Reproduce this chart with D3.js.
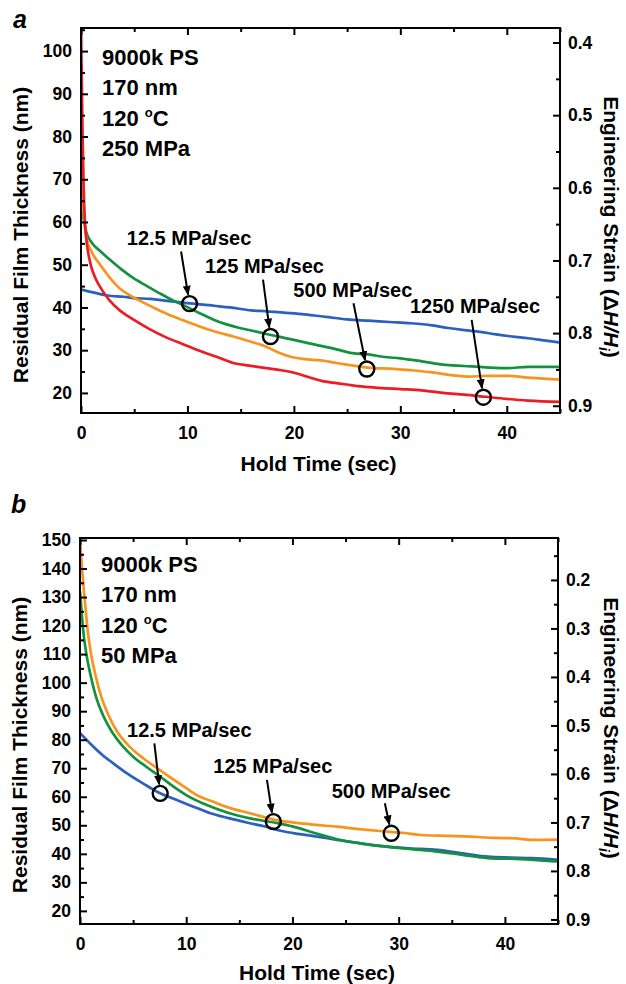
<!DOCTYPE html>
<html>
<head>
<meta charset="utf-8">
<script src="https://cdn.jsdelivr.net/npm/d3@7"></script>
<style>
  body { margin: 0; background: #fff; }
  svg { display: block; font-family: "Liberation Sans", Arial, sans-serif; font-weight: bold; }
</style>
</head>
<body>
<div id="chart"></div>
<script>
// ---- data: [hold time (s), residual thickness (nm)] ----
const initialThickness = 170;

// panel a, 250 MPa
const a_12_5 = [[0,44.2],[1,43.6],[2.5,42.8],[4,42.5],[5,42.2],[6.5,42.0],[7.5,41.7],[9,41.3],[10,41.0],[11,40.8],[12.5,40.4],[14,40.0],[16,39.3],[17.5,39.1],[19,38.8],[21,38.4],[23,37.8],[25,37.2],[27,36.9],[29,36.6],[31,36.3],[33,35.8],[34.5,35.2],[36,34.7],[37.5,34.3],[39,33.7],[40.5,33.2],[42,32.8],[43.5,32.3],[45,31.8]];
const a_125 = [[0,65],[0.2,61.5],[0.5,57.6],[1,55.2],[1.8,53.2],[2.7,51.2],[3.8,48.9],[4.9,46.9],[6.2,45.0],[7.4,43.3],[8.6,41.7],[9.9,40.2],[11.2,38.6],[12.4,37.2],[13.6,36.1],[14.9,35.2],[16.2,34.5],[17.4,33.8],[18.7,33.1],[20,32.4],[22,31.3],[24,30.2],[25.5,29.3],[27,29.0],[28.5,28.4],[30,28.1],[32,27.4],[34,26.6],[36,26.3],[38,26.0],[40,25.8],[42,26.1],[45,26.1]];
const a_500 = [[0,79],[0.1,70],[0.25,62],[0.5,56.4],[1,53],[1.8,50.0],[2.6,47.3],[3.4,45.0],[4.4,43.1],[5.5,41.6],[6.8,40.0],[8,38.6],[9.6,37.0],[11.2,35.5],[12.8,34.2],[14.3,33.2],[15.8,32.1],[17.4,30.8],[18.6,29.4],[19.8,28.4],[21,27.9],[22.5,27.6],[24,27.0],[26,26.2],[27.5,25.8],[29,25.7],[31,25.3],[33,24.8],[35,24.1],[36.5,23.8],[38,24.0],[40,24.0],[42,23.6],[45,23.1]];
const a_1250 = [[0,106],[0.08,92],[0.15,80],[0.25,68],[0.35,61],[0.5,56],[0.75,51.8],[1.0,49.2],[1.4,46.6],[2,44.0],[2.7,41.6],[3.6,39.4],[4.9,37.2],[6.4,35.0],[8,33.0],[9.6,31.4],[11.2,29.8],[12.8,28.4],[14.3,27.0],[15.8,26.4],[17.4,25.8],[18.8,25.3],[20.2,24.6],[21.5,23.6],[22.8,22.7],[24,22.3],[26,21.6],[28,21.2],[30,20.9],[32,20.6],[34,20.0],[36,19.6],[38,19.1],[40,18.6],[42,18.2],[45,17.9]];

// panel b, 50 MPa
const b_12_5 = [[0,82.3],[1,78.5],[2,75],[3.1,71.8],[4.5,68],[6,64.5],[7.5,61.3],[9,59],[10.5,56.8],[12.2,54.3],[14,52.5],[15.8,50.9],[17.5,49.5],[19,48.0],[20.5,47.0],[22,46.2],[24.2,44.9],[26.5,43.6],[28.9,42.5],[31,41.9],[33.6,41.4],[36,40.2],[38.4,39.0],[40.5,38.7],[42.5,38.5],[45,37.9]];
const b_125 = [[0,132],[0.15,125],[0.3,118.4],[0.6,110],[1,102.5],[1.5,95.1],[2.2,88.3],[2.9,83.4],[4,77.8],[5,74.0],[6.2,70.6],[7.5,67.2],[9,63.0],[10,60.6],[12,57.0],[14,54.3],[16,52.4],[18.5,50.8],[20,49.6],[22,47.4],[24.2,45.1],[26.5,43.6],[28.9,42.5],[31,41.7],[33.6,40.8],[36,39.6],[38.4,38.5],[41,38.2],[43,37.8],[45,37.3]];
const b_500 = [[0,151],[0.1,145],[0.3,135],[0.5,127],[0.72,118.4],[1,111],[1.5,102],[2,95.1],[2.7,88.5],[3.4,83.4],[4.5,78.2],[5.5,74.8],[6.5,72.0],[7.5,69.4],[8.5,66.8],[10,63.0],[11.2,60.2],[12.5,58.3],[14,56.2],[15.9,54.3],[17,53.2],[18.2,52.0],[20,51.0],[22,50.2],[24.2,49.5],[26.5,48.6],[28.9,47.8],[30.5,47.3],[32.1,46.6],[34.5,46.3],[36.8,46.0],[39,45.6],[41,45.4],[42.5,44.9],[45,45.0]];

// conditions text
const infoA = ["9000k PS", "170 nm", "120 °C", "250 MPa"];
const infoB = ["9000k PS", "170 nm", "120 °C", "50 MPa"];

// annotations: circle point, label start, arrow tail (data coords)
const notesA = [
  { text: "12.5 MPa/sec", pt: [10.2, 40.9], lab: [4.3, 54.6], tail: [9.4, 53.1] },
  { text: "125 MPa/sec",  pt: [17.8, 33.2], lab: [11.65, 48.1], tail: [17.1, 46.5] },
  { text: "500 MPa/sec",  pt: [26.85, 25.6], lab: [19.95, 42.5], tail: [25.6, 41.0] },
  { text: "1250 MPa/sec", pt: [37.8, 19.0], lab: [30.9, 38.6], tail: [36.7, 37.1] }
];
const notesB = [
  { text: "12.5 MPa/sec", pt: [7.55, 61.2], lab: [4.43, 80.9], tail: [7.0, 78.7] },
  { text: "125 MPa/sec",  pt: [18.2, 51.3], lab: [12.55, 68.3], tail: [17.6, 65.9] },
  { text: "500 MPa/sec",  pt: [29.3, 47.2], lab: [23.7, 59.6], tail: [28.7, 57.7] }
];

// ticks
const xMajor = [0, 10, 20, 30, 40];
const xMinor = [5, 15, 25, 35, 45];
const yMajorA = d3.range(20, 101, 10);
const yMinorA = d3.range(25, 106, 10);
const yMajorB = d3.range(20, 151, 10);
const yMinorB = d3.range(25, 146, 10);
const sMajorA = [0.4, 0.5, 0.6, 0.7, 0.8, 0.9];
const sMinorA = [0.45, 0.55, 0.65, 0.75, 0.85];
const sMajorB = [0.2, 0.3, 0.4, 0.5, 0.6, 0.7, 0.8, 0.9];
const sMinorB = [0.15, 0.25, 0.35, 0.45, 0.55, 0.65, 0.75, 0.85];

const colors = { blue: "#2b5fc0", green: "#13913f", orange: "#f7941d", red: "#ed1c24" };

const width = 626, height = 984;

const svg = d3.select("#chart")
  .append("svg")
    .attr("width", width)
    .attr("height", height)
    .attr("viewBox", [0, 0, width, height]);

svg.append("defs")
  .append("marker")
    .attr("id", "arrow")
    .attr("markerUnits", "userSpaceOnUse")
    .attr("markerWidth", 10)
    .attr("markerHeight", 8)
    .attr("refX", 9)
    .attr("refY", 4)
    .attr("orient", "auto")
  .append("path")
    .attr("d", "M0,0 L10,4 L0,8 Z")
    .attr("fill", "#000");

const styleAxis = (g, size) => {
  g.select(".domain").remove();
  g.selectAll("line").attr("stroke", "#000").attr("stroke-width", 2);
  g.selectAll("text")
    .attr("fill", "#000")
    .style("font-size", size + "px")
    .style("font-family", "'Liberation Sans', Arial, sans-serif")
    .style("font-weight", "bold");
};

function drawPanel(p) {
  const { left, right, top, bottom } = p.box;
  const x = d3.scaleLinear().domain([0, 45]).range([left, right]);
  const y = d3.scaleLinear().domain(p.yDomain).range([bottom, top]);
  const strain = d3.scaleLinear()
    .domain([1 - p.yDomain[0] / initialThickness, 1 - p.yDomain[1] / initialThickness])
    .range([bottom, top]);

  const g = svg.append("g").attr("class", "panel-" + p.letter);

  g.append("clipPath").attr("id", "clip-" + p.letter)
    .append("rect")
      .attr("x", left).attr("y", top)
      .attr("width", right - left).attr("height", bottom - top);

  // curves
  const line = d3.line()
    .x(d => x(d[0]))
    .y(d => y(d[1]))
    .curve(d3.curveMonotoneX);
  g.append("g")
      .attr("clip-path", `url(#clip-${p.letter})`)
    .selectAll("path")
    .data(p.series)
    .join("path")
      .attr("d", d => line(d.values))
      .attr("fill", "none")
      .attr("stroke", d => d.color)
      .attr("stroke-width", 2.7)
      .attr("stroke-linejoin", "round");

  // axes, ticks inward
  g.append("g").attr("transform", `translate(0,${bottom})`)
    .call(d3.axisBottom(x).tickValues(xMajor).tickSize(-7).tickPadding(14))
    .call(s => styleAxis(s, 17.5));
  g.append("g").attr("transform", `translate(0,${bottom})`)
    .call(d3.axisBottom(x).tickValues(xMinor).tickSize(-4).tickFormat(""))
    .call(s => styleAxis(s, 17.5));
  g.append("g").attr("transform", `translate(0,${top})`)
    .call(d3.axisTop(x).tickValues(xMajor).tickSize(-7).tickFormat(""))
    .call(s => styleAxis(s, 17.5));
  g.append("g").attr("transform", `translate(0,${top})`)
    .call(d3.axisTop(x).tickValues(xMinor).tickSize(-4).tickFormat(""))
    .call(s => styleAxis(s, 17.5));

  g.append("g").attr("transform", `translate(${left},0)`)
    .call(d3.axisLeft(y).tickValues(p.yMajor).tickSize(-7).tickPadding(9).tickFormat(d3.format("d")))
    .call(s => styleAxis(s, 17.5));
  g.append("g").attr("transform", `translate(${left},0)`)
    .call(d3.axisLeft(y).tickValues(p.yMinor).tickSize(-4).tickFormat(""))
    .call(s => styleAxis(s, 17.5));

  g.append("g").attr("transform", `translate(${right},0)`)
    .call(d3.axisRight(strain).tickValues(p.sMajor).tickSize(-7).tickPadding(8).tickFormat(d3.format(".1f")))
    .call(s => styleAxis(s, 17.5));
  g.append("g").attr("transform", `translate(${right},0)`)
    .call(d3.axisRight(strain).tickValues(p.sMinor).tickSize(-4).tickFormat(""))
    .call(s => styleAxis(s, 17.5));

  // frame
  g.append("rect")
    .attr("x", left).attr("y", top)
    .attr("width", right - left).attr("height", bottom - top)
    .attr("fill", "none")
    .attr("stroke", "#000")
    .attr("stroke-width", 2);

  // conditions
  const info = g.append("g").style("font-size", "22px");
  p.info.forEach((t, i) => {
    const txt = info.append("text")
      .attr("x", left + 21)
      .attr("y", top + p.infoOffset + i * 30.3);
    if (t.includes("°")) {
      txt.append("tspan").text("120 ");
      txt.append("tspan").text("o").attr("dy", -9).style("font-size", "13px");
      txt.append("tspan").text("C").attr("dy", 9);
    } else {
      txt.text(t);
    }
  });

  // annotations
  const notes = g.append("g");
  p.notes.forEach(n => {
    const cx = x(n.pt[0]), cy = y(n.pt[1]);
    const tx = x(n.tail[0]), ty = y(n.tail[1]);
    const len = Math.hypot(cx - tx, cy - ty);
    const r = 7.5;
    notes.append("text")
      .attr("x", x(n.lab[0]))
      .attr("y", y(n.lab[1]))
      .style("font-size", "20px")
      .text(n.text);
    notes.append("line")
      .attr("x1", tx).attr("y1", ty)
      .attr("x2", cx - (cx - tx) / len * (r + 1.5))
      .attr("y2", cy - (cy - ty) / len * (r + 1.5))
      .attr("stroke", "#000")
      .attr("stroke-width", 2)
      .attr("marker-end", "url(#arrow)");
    notes.append("circle")
      .attr("cx", cx).attr("cy", cy).attr("r", r)
      .attr("fill", "none")
      .attr("stroke", "#000")
      .attr("stroke-width", 2.4);
  });

  // axis titles
  g.append("text")
    .attr("transform", `translate(${p.leftTitle[0]},${p.leftTitle[1]}) rotate(-90)`)
    .attr("text-anchor", "middle")
    .style("font-size", "21px")
    .text("Residual Film Thickness (nm)");

  const rt = g.append("text")
    .attr("transform", `translate(${p.rightTitle[0]},${p.rightTitle[1]}) rotate(90)`)
    .attr("text-anchor", "middle")
    .style("font-size", "21px");
  rt.append("tspan").text("Engineering Strain (\u0394");
  rt.append("tspan").text("H/H").style("font-style", "italic");
  rt.append("tspan").text("i").style("font-style", "italic").style("font-size", "14px").attr("dy", 5);
  rt.append("tspan").text(")").attr("dy", -5);

  g.append("text")
    .attr("x", (left + right) / 2 - 2)
    .attr("y", p.bottomTitleY)
    .attr("text-anchor", "middle")
    .style("font-size", "21px")
    .text("Hold Time (sec)");

  // panel letter
  g.append("text")
    .attr("x", p.letterPos[0])
    .attr("y", p.letterPos[1])
    .style("font-size", "25px")
    .style("font-style", "italic")
    .text(p.letter);
}

drawPanel({
  letter: "a",
  box: { left: 81, right: 560, top: 28, bottom: 413 },
  yDomain: [15.3, 105.4],
  yMajor: yMajorA, yMinor: yMinorA,
  sMajor: sMajorA, sMinor: sMinorA,
  series: [
    { values: a_12_5, color: colors.blue },
    { values: a_125, color: colors.green },
    { values: a_500, color: colors.orange },
    { values: a_1250, color: colors.red }
  ],
  info: infoA, infoOffset: 37,
  notes: notesA,
  leftTitle: [28, 235],
  rightTitle: [604, 227],
  bottomTitleY: 471,
  letterPos: [13, 28]
});

drawPanel({
  letter: "b",
  box: { left: 80, right: 558, top: 538, bottom: 924 },
  yDomain: [15.4, 150.7],
  yMajor: yMajorB, yMinor: yMinorB,
  sMajor: sMajorB, sMinor: sMinorB,
  series: [
    { values: b_12_5, color: colors.blue },
    { values: b_125, color: colors.green },
    { values: b_500, color: colors.orange }
  ],
  info: infoB, infoOffset: 34,
  notes: notesB,
  leftTitle: [27, 745],
  rightTitle: [604, 728],
  bottomTitleY: 980,
  letterPos: [11, 513]
});
</script>
</body>
</html>
